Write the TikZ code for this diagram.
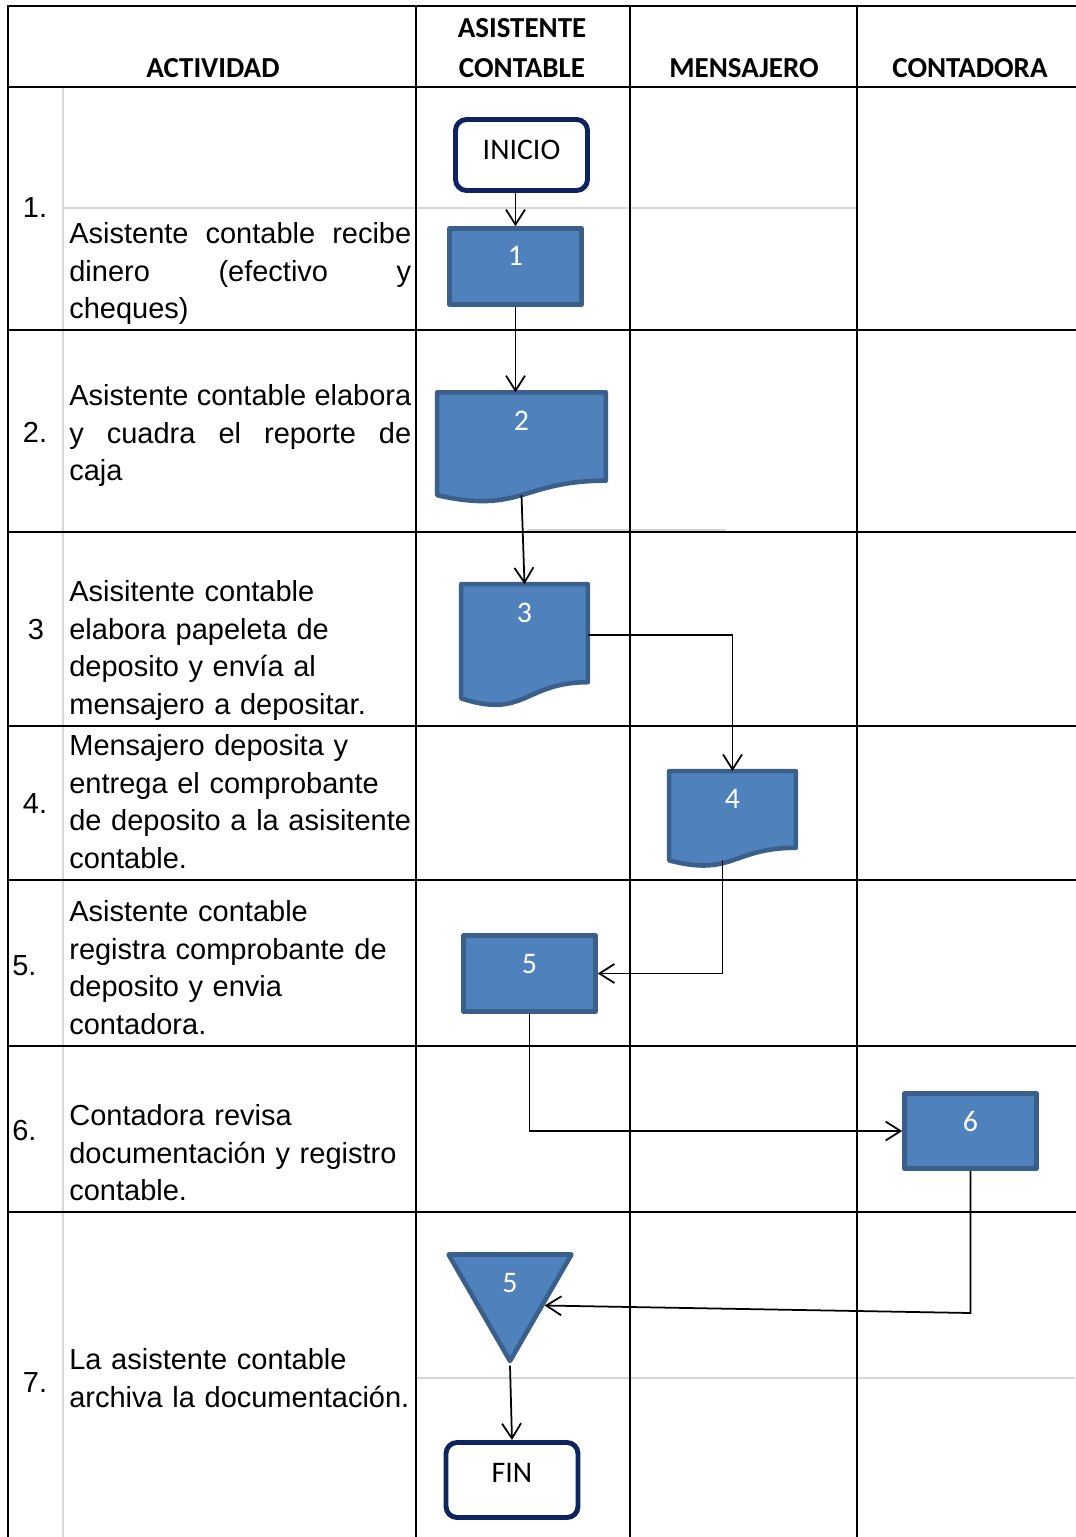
\documentclass[tikz,border=0pt]{standalone}
\usepackage{fontspec}
\setmainfont{Liberation Sans}
\newfontfamily\calibri{Carlito}
\usepackage{tikz}
\usetikzlibrary{shapes.geometric, arrows.meta, positioning, calc, backgrounds}
\definecolor{boxfill}{HTML}{4F81BD}
\definecolor{boxline}{HTML}{3A5F8B}
\definecolor{navy}{HTML}{0E2461}
\definecolor{softgrid}{HTML}{D6D6D6}
\tikzset{
    gridline/.style={line width=1.4pt, line cap=rect},
    softline/.style={line width=1.1pt, softgrid},
    headtxt/.style={inner sep=0pt, align=center, font=\calibri\bfseries\fontsize{16.5}{22.7}\selectfont},
    acttxt/.style={anchor=north west, inner sep=0pt, text width=6.9cm, align=left, font=\fontsize{16.5}{21.5}\selectfont},
    numtxt/.style={inner sep=0pt, font=\fontsize{16.5}{21.5}\selectfont},
    startstop/.style={rectangle, rounded corners=0.22cm, draw=navy, line width=2.8pt, fill=white, minimum width=2.64cm, inner sep=0pt, text height=0.8cm, font=\calibri\fontsize{17}{20}\selectfont},
    process/.style={rectangle, draw=boxline, fill=boxfill, line width=2.6pt, line join=round, minimum width=2.64cm, inner sep=0pt, text height=0.75cm, text=white, font=\calibri\fontsize{17}{20}\selectfont},
    docbox/.style={rectangle, inner sep=0pt, text height=0.75cm, text=white, font=\calibri\fontsize{17}{20}\selectfont},
    docline/.style={draw=boxline, fill=boxfill, line width=2.6pt, line join=round},
    offpage/.style={regular polygon, regular polygon sides=3, shape border rotate=180, draw=boxline, fill=boxfill, line width=2.6pt, line join=round, minimum size=2.84cm, inner sep=0pt, text depth=0.28cm, text=white, font=\calibri\fontsize{17}{20}\selectfont},
    arrow/.style={line width=1pt, -{Straight Barb[length=0.3cm, width=0.38cm]}}
}
% justified line of the activity column (words split by \hfill)
\newcommand{\fullline}[1]{\leavevmode\hbox to 6.84cm{#1}}
% document symbol drawn behind a docbox node
\newcommand{\docshape}[1]{%
    \begin{scope}[on background layer]
        \path[docline] (#1.north west) -- (#1.north east)
            -- ($(#1.north east)!0.802!(#1.south east)$)
            .. controls ($(#1.north)!0.802!(#1.south)$) and ($(#1.north)!1.107!(#1.south)$)
            .. ($(#1.north west)!0.934!(#1.south west)$) -- cycle;
    \end{scope}
    \coordinate (#1-wave) at ($(#1.north)!0.933!(#1.south)$);
}

\begin{document}
\begin{tikzpicture}[x=0.02cm, y=-0.02cm]
    \useasboundingbox (0,0) rectangle (1075,1537);

    % table rules
    \begin{scope}[on background layer]
        \draw[softline] (63,87) -- (63,1537);
        \draw[softline] (63,208) -- (857,208);
        \draw[softline] (416,1378) -- (1075,1378);
        \draw[softline, line width=0.6pt] (527,530) -- (726,530);
        \foreach \y in {6,87,330,532,726,880,1046,1212}
            \draw[gridline] (8,\y) -- (1075,\y);
        \foreach \x in {8,416,630,857}
            \draw[gridline] (\x,6) -- (\x,1537);
    \end{scope}

    % header
    \node[headtxt] (hact) at (213,68) {ACTIVIDAD};
    \node[headtxt] (hasis) at (522,48) {ASISTENTE\\CONTABLE};
    \node[headtxt] (hmens) at (744,68) {MENSAJERO};
    \node[headtxt] (hcont) at (970,68) {CONTADORA};

    % step numbers
    \node[numtxt] (n1) at (35,208) {1.};
    \node[numtxt] (n2) at (35,432) {2.};
    \node[numtxt] (n3) at (36,630) {3};
    \node[numtxt] (n4) at (35,804) {4.};
    \node[numtxt, anchor=west] (n5) at (12,966) {5.};
    \node[numtxt, anchor=west] (n6) at (12,1131) {6.};
    \node[numtxt] (n7) at (35,1383) {7.};

    % activities
    \node[acttxt] (a1) at (69,222) {\fullline{Asistente\hfill contable\hfill recibe}\\ \fullline{dinero\hfill (efectivo\hfill y}\\ cheques)};
    \node[acttxt] (a2) at (69,384) {\fullline{Asistente\hfill contable\hfill elabora}\\ \fullline{y\hfill cuadra\hfill el\hfill reporte\hfill de}\\ caja};
    \node[acttxt] (a3) at (69,580) {Asisitente contable\\ elabora papeleta de\\ deposito y envía al\\ mensajero a depositar.};
    \node[acttxt] (a4) at (69,734) {Mensajero deposita y\\ entrega el comprobante\\ de deposito a la asisitente\\ contable.};
    \node[acttxt] (a5) at (69,900) {Asistente contable\\ registra comprobante de\\ deposito y envia\\ contadora.};
    \node[acttxt] (a6) at (69,1104) {Contadora revisa\\ documentación y registro\\ contable.};
    \node[acttxt] (a7) at (69,1348) {La asistente contable\\ archiva la documentación.};

    % flow symbols
    \node[startstop, minimum height=1.42cm, text depth=0.62cm] (inicio) at (521.5,155) {INICIO};
    \node[process, minimum height=1.52cm, text depth=0.77cm] (p1) at (515.5,266.5) {1};
    \node[docbox, minimum width=3.36cm, minimum height=2.19cm, text depth=1.44cm] (p2) at (521.5,447.4) {2};
    \docshape{p2}
    \node[docbox, minimum width=2.52cm, minimum height=2.43cm, text depth=1.68cm] (p3) at (524.5,645.3) {3};
    \docshape{p3}
    \node[docbox, minimum width=2.52cm, minimum height=1.90cm, text depth=1.15cm] (p4) at (732.5,818.9) {4};
    \docshape{p4}
    \node[process, minimum height=1.52cm, text depth=0.77cm] (p5) at (529.5,973.5) {5};
    \node[process, minimum height=1.50cm, text depth=0.75cm] (p6) at (970.5,1131) {6};
    \node[offpage] (file) at (510,1290) {5};
    \node[startstop, minimum height=1.5cm, text depth=0.70cm] (fin) at (512,1480) {FIN};

    % connectors
    \draw[arrow] (p1.north |- inicio.south) -- (p1.north);
    \draw[arrow] (p1.south) -- (p1.south |- p2.north);
    \draw[arrow] (p2-wave) -- (p3.north);
    \draw[arrow] ([yshift=0.2cm]p3.east) -| (p4.north);
    \draw[arrow] ([xshift=-0.2cm]p4-wave) |- (p5.east);
    \draw[arrow] (p5.south) |- (p6.west);
    \coordinate (turn6) at (p6.south |- 0,1313);
    \draw[arrow] (p6.south) -- (turn6) -- ($(file.corner 2)!0.47!(file.corner 1)$);
    \draw[arrow] (file.south) -- (fin.north);
\end{tikzpicture}
\end{document}
